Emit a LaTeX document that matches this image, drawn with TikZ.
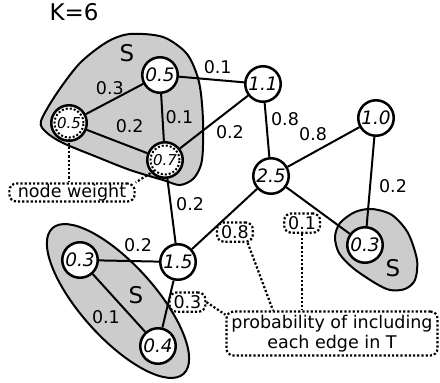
\documentclass[tikz,border=0pt]{standalone}
\usepackage{fontspec}
\setmainfont{DejaVu Sans}
\begin{document}
\begin{tikzpicture}[x=1pt,y=-1pt]
	\tikzstyle{unit} = [circle,line width=2.5pt,draw,fill=white,minimum size=35.5pt,inner sep=0pt,font=\fontsize{18.5}{20}\selectfont\itshape]
	\tikzstyle{wunit} = [unit,font=\fontsize{15}{18}\selectfont\itshape]
	\tikzstyle{weight} = [circle,line width=2pt,dotted,draw,minimum size=29pt,inner sep=0pt]
	\tikzstyle{prob} = [inner sep=2pt,font=\fontsize{17.5}{20}\selectfont]
	\tikzstyle{note} = [draw,dotted,line width=2.2pt,rounded corners=7pt,inner xsep=4pt,inner ysep=3pt,font=\fontsize{17.5}{20}\selectfont]
	\tikzstyle{callout} = [dotted,line width=2.2pt]
	\tikzstyle{group} = [draw,line width=2pt,fill=gray!40]
	\tikzstyle{link} = [line width=2pt]
	\tikzstyle{setlbl} = [inner sep=0pt,font=\fontsize{23}{26}\selectfont]
	
		\useasboundingbox (0,0) rectangle (440,383);
		
		\draw[group] plot[smooth cycle] coordinates {(41,121) (57,93) (80,63) (107,42) (130,34) (163,37) (187,54) (199,82) (203,120) (202,160) (194,178) (180,185) (163,180) (130,170) (97,157) (63,143) (46,132)};
		\draw[group,rotate around={-48:(118,301)}] (118,301) ellipse [x radius=98pt,y radius=37pt];
		\draw[group] plot[smooth cycle] coordinates {(340,223) (355,212) (372,209) (392,215) (408,233) (417,260) (415,280) (405,289) (390,290) (375,283) (353,268) (339,253) (335,237)};
		
		\node[setlbl] (k) at (74,12) {K=6};
		\node[setlbl] (s1) at (127,53) {S};
		\node[setlbl] (s2) at (136,295) {S};
		\node[setlbl] (s3) at (393,268) {S};
		
		\node[unit] (u1) at (160,75) {0.5};
		\node[wunit] (u2) at (69,123) {0.5};
		\node[weight] (w2) at (u2) {};
		\node[wunit] (u3) at (165,160) {0.7};
		\node[weight] (w3) at (u3) {};
		\node[unit] (u4) at (263,84) {1.1};
		\node[unit] (u5) at (376,118) {1.0};
		\node[unit] (u6) at (271,176) {2.5};
		\node[unit] (u7) at (365,245) {0.3};
		\node[unit] (u8) at (178,262) {1.5};
		\node[unit] (u9) at (80,260) {0.3};
		\node[unit] (u10) at (158,346) {0.4};
		
		\draw[link] (u1) -- node[prob,pos=0.58,above=4pt]{0.3} (u2);
		\draw[link] (u1) -- node[prob,pos=0.595,above=3pt]{0.1} (u4);
		\draw[link] (u1) -- node[prob,right]{0.1} (u3);
		\draw[link] (u2) -- node[prob,pos=0.71,above=11pt]{0.2} (u3);
		\draw[link] (u3) -- node[prob,pos=0.486,below right]{0.2} (u4);
		\draw[link] (u4) -- node[prob,pos=0.3,right=2pt]{0.8} (u6);
		\draw[link] (u6) -- node[prob,pos=0.59,above left]{0.8} (u5);
		\draw[link] (u5) -- node[prob,pos=0.557,right=6pt]{0.2} (u7);
		\draw[link] (u3) -- node[prob,pos=0.4,right=2.5pt]{0.2} (u8);
		\draw[link] (u8) -- node[prob,pos=0.35,above=6.5pt]{0.2} (u9);
		\draw[link] (u9) -- node[prob,pos=0.574,below left]{0.1} (u10);
		\draw[link] (u6) -- node[note,pos=0.25,below=13.5pt] (p1) {0.1} (u7);
		\draw[link] (u6) -- node[note,pos=0.34,below=12pt] (p2) {0.8} (u8);
		\draw[link] (u8) -- node[note,pos=0.46,right=0pt] (p3) {0.3} (u10);
		
		\node[note,inner xsep=8.5pt,inner ysep=0.5pt] (nw) at (72,192.5) {node weight};
		\node[note,align=center,inner xsep=5pt,inner ysep=3.5pt] (pt) at (332,333.5) {probability of including\\each edge in T};
		
		\draw[callout] (w2.south) -- (w2.south |- nw.north);
		\draw[callout] (w3.225) -- (nw.north east);
		\draw[callout] (p2.320) -- ([xshift=-59pt]pt.north);
		\draw[callout] (p1.south) -- (p1.south |- pt.north);
		\draw[callout] (p3.east) -- (pt.170);
\end{tikzpicture}
\end{document}
